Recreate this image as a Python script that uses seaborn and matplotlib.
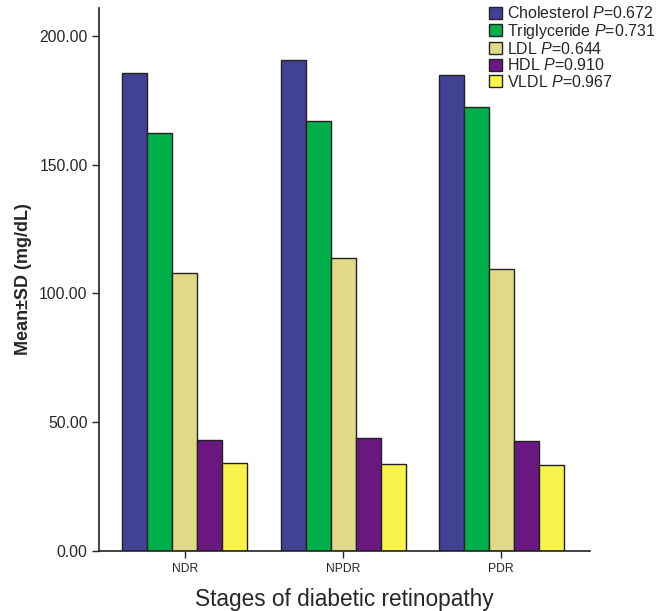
import matplotlib
matplotlib.use("Agg")
import matplotlib.pyplot as plt
import seaborn as sns
import pandas as pd
from matplotlib.ticker import FormatStrFormatter

stages = ["NDR", "NPDR", "PDR"]
lipids = ["Cholesterol", "Triglyceride", "LDL", "HDL", "VLDL"]
p_values = ["0.672", "0.731", "0.644", "0.910", "0.967"]
cholesterol = [185.5, 190.7, 184.8]
triglyceride = [162.2, 167.1, 172.5]
ldl = [108.0, 113.6, 109.6]
hdl = [42.8, 43.7, 42.5]
vldl = [34.2, 33.6, 33.2]
colors = ["#414294", "#00AE4A", "#E0DA88", "#6A1780", "#F8F24C"]

series = [cholesterol, triglyceride, ldl, hdl, vldl]
labels = [f"{n} $\\mathit{{P}}$={p}" for n, p in zip(lipids, p_values)]
rows = []
for lab, vals in zip(labels, series):
    for s, v in zip(stages, vals):
        rows.append({"Stage": s, "Lipid": lab, "Value": v})
df = pd.DataFrame(rows)

sns.set_style("ticks")
plt.rcParams["font.family"] = ["Liberation Sans", "DejaVu Sans"]
plt.rcParams["mathtext.fontset"] = "custom"
plt.rcParams["mathtext.rm"] = "Liberation Sans"
plt.rcParams["mathtext.it"] = "Liberation Sans:italic"

fig = plt.figure(figsize=(6.63, 6.11), dpi=100)
ax = fig.add_axes([0.149, 0.099, 0.7406, 0.888])
sns.barplot(data=df, x="Stage", y="Value", hue="Lipid", order=stages,
            hue_order=labels, palette=colors, width=0.79, ax=ax,
            edgecolor="#222222", linewidth=1.0, errorbar=None, saturation=1)

ax.set_xlim(-0.544, 2.56)
ax.set_ylim(0, 210.9)
ax.set_yticks([0, 50, 100, 150, 200])
ax.yaxis.set_major_formatter(FormatStrFormatter("%.2f"))
ax.tick_params(axis="y", labelsize=11.3, length=5, width=1, pad=3)
ax.tick_params(axis="x", labelsize=8.7, length=5, width=1, pad=4)
for s in ["top", "right"]:
    ax.spines[s].set_visible(False)
for s in ["left", "bottom"]:
    ax.spines[s].set_linewidth(1.2)
    ax.spines[s].set_color("#222222")
ax.set_ylabel("Mean±SD (mg/dL)", fontsize=13, fontweight="bold", labelpad=5)
ax.set_xlabel("Stages of diabetic retinopathy", fontsize=16.3, labelpad=9)

handles, labs = ax.get_legend_handles_labels()
ax.get_legend().remove()
fig.legend(handles, labs, loc="upper left", bbox_to_anchor=(0.7345, 0.994),
           frameon=False, fontsize=11.5, handlelength=0.85, handleheight=0.75,
           handletextpad=0.3, labelspacing=0.02, borderaxespad=0, borderpad=0.1)

fig.savefig("out.png", dpi=100)
